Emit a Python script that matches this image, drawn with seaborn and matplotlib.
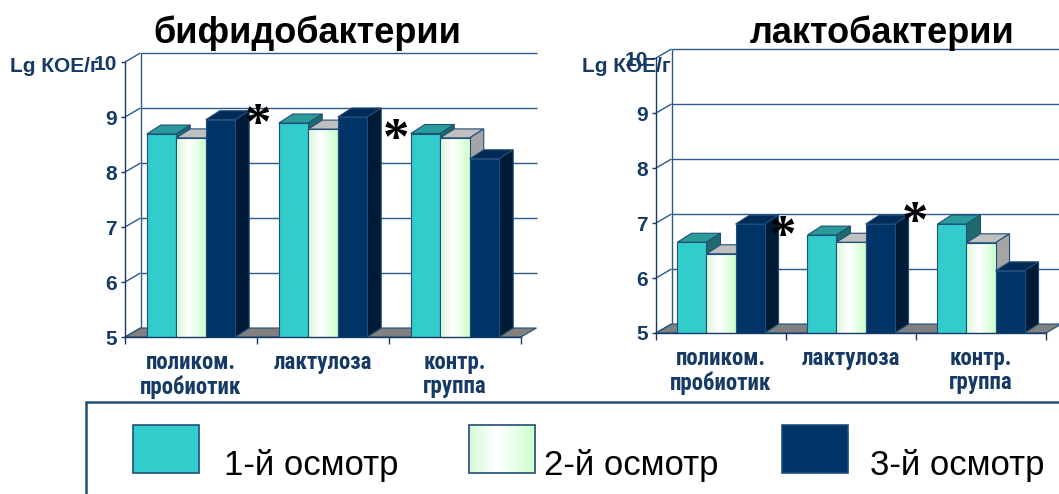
import numpy as np
import pandas as pd
import matplotlib
matplotlib.use("Agg")
import matplotlib.pyplot as plt
import seaborn as sns
from matplotlib.patches import Polygon, Rectangle
from matplotlib.transforms import IdentityTransform
from matplotlib.font_manager import FontProperties, findfont

# ---------------------------------------------------------------- data
groups = ["поликом.\nпробиотик", "лактулоза", "контр.\nгруппа"]
visits = ["1-й осмотр", "2-й осмотр", "3-й осмотр"]

bifido_visit1 = [8.69, 8.89, 8.70]
bifido_visit2 = [8.62, 8.78, 8.62]
bifido_visit3 = [8.95, 9.00, 8.24]

lacto_visit1 = [6.65, 6.78, 6.98]
lacto_visit2 = [6.44, 6.65, 6.64]
lacto_visit3 = [6.98, 6.98, 6.13]

y_ticks = [5, 6, 7, 8, 9, 10]
y_label = "Lg КОЕ/г"
titles = ["бифидобактерии", "лактобактерии"]

# significance marks: (category-axis position, level)
bifido_marks = [(0.51, 9.0), (1.55, 8.73)]
lacto_marks = [(0.48, 6.9), (1.49, 7.15)]

# ---------------------------------------------------------------- style
W, H, DPI = 1059, 494, 100
NAVY = "#163A66"
GRID = "#2B5A8A"
EDGE = "#1F4E79"
FRONT = ["#33CCCC", "#E6FFE6", "#003366"]
TOP = ["#2A9A9A", "#C0C0C0", "#002B58"]
SIDE = ["#1F6B6B", "#A5A5A5", "#001B36"]
BAR_D = (14, 9)      # bar depth in pixels (right, up)
FLOOR_D = (15.5, 9)  # floor / back wall depth in pixels


def has_font(name):
    try:
        findfont(FontProperties(family=name), fallback_to_default=False)
        return True
    except Exception:
        return False


SANS = "Liberation Sans"
NARROW = SANS
for cand in ("Liberation Sans Narrow", "Arial Narrow", "Roboto Condensed"):
    if has_font(cand):
        NARROW = cand
        break

sns.set_style("white")
plt.rcParams["font.family"] = [SANS, "DejaVu Sans"]


def light_gradient(n):
    stops = [(0.0, (0.85, 0.97, 0.85)), (0.42, (1.0, 1.0, 1.0)), (1.0, (0.80, 1.0, 0.80))]
    xs = np.linspace(0, 1, n)
    out = np.zeros((n, 3))
    for c in range(3):
        out[:, c] = np.interp(xs, [s[0] for s in stops], [s[1][c] for s in stops])
    return out


def poly(ax, pts, fc, z, lw=0.8, ec=EDGE):
    p = Polygon(pts, closed=True, facecolor=fc, edgecolor=ec, linewidth=lw,
                transform=IdentityTransform(), clip_on=False, zorder=z)
    ax.add_patch(p)
    return p


def line(ax, p0, p1, z=0.6, color=GRID, lw=1.0):
    ax.plot([p0[0], p1[0]], [p0[1], p1[1]], color=color, lw=lw,
            transform=IdentityTransform(), clip_on=False, zorder=z,
            solid_capstyle="butt")


def draw_panel(ax, v1, v2, v3, marks):
    df = pd.DataFrame({
        "group": groups * 3,
        "visit": np.repeat(visits, len(groups)),
        "value": list(v1) + list(v2) + list(v3),
    })
    sns.barplot(data=df, x="group", y="value", hue="visit", order=groups,
                hue_order=visits, palette=FRONT, saturation=1, width=0.67,
                errorbar=None, edgecolor=EDGE, linewidth=0.8, legend=False, ax=ax)
    ax.set_xlim(-0.5, len(groups) - 0.5)
    ax.set_ylim(y_ticks[0], y_ticks[-1])
    ax.patch.set_visible(False)

    T = ax.transData
    fdx, fdy = FLOOR_D
    bdx, bdy = BAR_D
    x0, x1 = -0.5, len(groups) - 0.5
    base = y_ticks[0]

    # floor
    a = T.transform((x0, base)); b = T.transform((x1, base))
    poly(ax, [a, b, (b[0] + fdx, b[1] + fdy), (a[0] + fdx, a[1] + fdy)],
         "#808080", 1.0)

    # back wall grid and its links to the value axis
    for v in y_ticks:
        a = T.transform((x0, v)); b = T.transform((x1, v))
        if v > base:
            line(ax, (a[0] + fdx, a[1] + fdy), (b[0] + fdx, b[1] + fdy))
        line(ax, a, (a[0] + fdx, a[1] + fdy), z=5)
    a = T.transform((x0, base)); b = T.transform((x0, y_ticks[-1]))
    line(ax, (a[0] + fdx, a[1] + fdy), (b[0] + fdx, b[1] + fdy))

    # 3-D faces for each bar, drawn left to right
    grad = light_gradient(64)[None, :, :]
    for h, cont in enumerate(ax.containers):
        for k, bar in enumerate(cont.patches):
            z = 3 + (3 * k + h) * 0.01
            xl = bar.get_x(); xr = xl + bar.get_width()
            top = bar.get_y() + bar.get_height()
            fl = T.transform((xl, top)); fr = T.transform((xr, top))
            br = T.transform((xr, base))
            poly(ax, [fl, fr, (fr[0] + bdx, fr[1] + bdy), (fl[0] + bdx, fl[1] + bdy)],
                 TOP[h], z)
            poly(ax, [br, fr, (fr[0] + bdx, fr[1] + bdy), (br[0] + bdx, br[1] + bdy)],
                 SIDE[h], z)
            bar.set_zorder(z + 0.004)
            if h == 1:
                im = ax.imshow(grad, extent=[xl, xr, base, top], aspect="auto",
                               interpolation="bilinear", zorder=z + 0.002)
                im.set_clip_path(bar)
                bar.set_facecolor("none")

    ax.set_xlim(-0.5, len(groups) - 0.5)
    ax.set_ylim(y_ticks[0], y_ticks[-1])

    # significance asterisks, glyph centred on the given point
    fs = 38
    for xm, ym in marks:
        ax.annotate("*", xy=(xm, ym), xytext=(0, -0.42 * fs), textcoords="offset points",
                    fontsize=fs, family="Liberation Serif", fontweight="bold",
                    ha="center", va="baseline", color="black", zorder=10,
                    annotation_clip=False)

    # axes, ticks and labels
    for side in ("top", "right"):
        ax.spines[side].set_visible(False)
    for side in ("left", "bottom"):
        ax.spines[side].set_color(NAVY)
        ax.spines[side].set_linewidth(1.0)
        ax.spines[side].set_zorder(6)
    ax.set_yticks(y_ticks)
    ax.set_yticklabels([str(t) for t in y_ticks], fontsize=15,
                       fontweight="bold", color=NAVY)
    ax.tick_params(axis="y", length=3, width=1, color=NAVY, pad=3, left=True)
    ax.set_xticks(range(len(groups)))
    ax.set_xticklabels(groups, fontsize=16.5, fontweight="bold", color=NAVY,
                       family=NARROW, linespacing=1.08)
    ax.set_xticks(np.arange(len(groups) + 1) - 0.5, minor=True)
    ax.tick_params(axis="x", which="major", length=0, pad=10)
    ax.tick_params(axis="x", which="minor", length=5, width=1, color=NAVY,
                   bottom=True)
    ax.set_xlabel("")
    ax.set_ylabel("")


fig = plt.figure(figsize=(W / DPI, H / DPI), dpi=DPI)
fig.patch.set_facecolor("white")

# front plane of each chart: value axis from 5 (bottom) to 10 (top)
ax1 = fig.add_axes([125 / W, 1 - 337 / H, 396 / W, 275 / H])
ax2 = fig.add_axes([656 / W, 1 - 333 / H, 390 / W, 275 / H])

draw_panel(ax1, bifido_visit1, bifido_visit2, bifido_visit3, bifido_marks)
draw_panel(ax2, lacto_visit1, lacto_visit2, lacto_visit3, lacto_marks)

# titles and unit labels
fig.text(307 / W, 1 - 43 / H, titles[0], ha="center", va="baseline",
         fontsize=26, fontweight="bold", color="black")
fig.text(882 / W, 1 - 43 / H, titles[1], ha="center", va="baseline",
         fontsize=26, fontweight="bold", color="black")
fig.text(99 / W, 1 - 72 / H, y_label, ha="right", va="baseline",
         fontsize=15, fontweight="bold", color=NAVY)
fig.text(671 / W, 1 - 72 / H, y_label, ha="right", va="baseline",
         fontsize=15, fontweight="bold", color=NAVY, zorder=10)

# legend box
fig.add_artist(Rectangle((86 / W, -0.2), 1.2, 1.2 - 402 / H, transform=fig.transFigure,
                         fill=False, edgecolor="#1F4E79", linewidth=1.8))
key_x = [133, 469, 782]
text_x = [224, 544, 870]
key_w, key_h, key_bottom = 66, 48, 473
for i, label in enumerate(visits):
    x = key_x[i] / W
    y = 1 - key_bottom / H
    if i == 1:
        cols = light_gradient(40)
        for j, c in enumerate(cols):
            fig.add_artist(Rectangle((x + j * key_w / 40 / W, y), key_w / 40 / W + 0.0005,
                                     key_h / H, transform=fig.transFigure,
                                     facecolor=c, edgecolor="none"))
        fig.add_artist(Rectangle((x, y), key_w / W, key_h / H, transform=fig.transFigure,
                                 fill=False, edgecolor=EDGE, linewidth=1.2))
    else:
        fig.add_artist(Rectangle((x, y), key_w / W, key_h / H, transform=fig.transFigure,
                                 facecolor=FRONT[i], edgecolor=EDGE, linewidth=1.2))
    fig.text(text_x[i] / W, 1 - 475 / H, label, ha="left", va="baseline",
             fontsize=25, color="black")

fig.savefig("out.png", dpi=DPI, facecolor="white")
